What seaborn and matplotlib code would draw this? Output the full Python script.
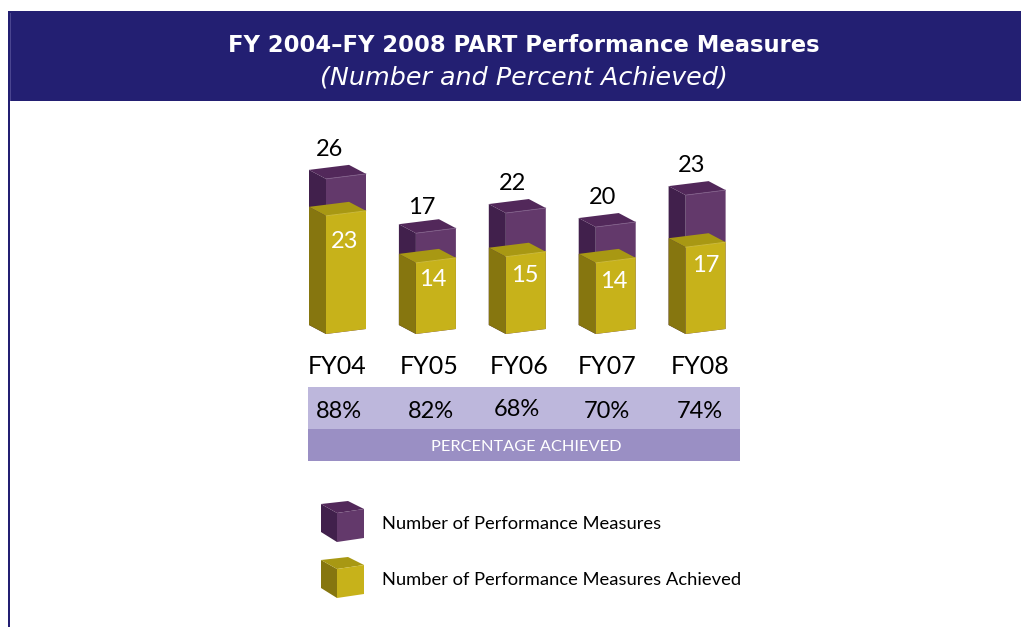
import matplotlib
matplotlib.use("Agg")
import matplotlib.pyplot as plt
from matplotlib.patches import Polygon, Rectangle
from matplotlib.transforms import Affine2D
import pandas as pd
import seaborn as sns

# Data
years = ["FY04", "FY05", "FY06", "FY07", "FY08"]
total_labels = [26, 17, 22, 20, 23]
achieved_labels = [23, 14, 15, 14, 17]
percent_labels = ["88%", "82%", "68%", "70%", "74%"]
# The source bars are not drawn in proportion to their printed numbers,
# so the drawn heights are measured separately from the labels
total_heights = [27.7, 18.0, 21.6, 19.1, 24.8]
achieved_heights = [21.1, 12.7, 13.8, 12.7, 15.5]

PURPLE = ("#63396b", "#52285a", "#41204c", "#7f5d88")  # front, top, side, highlight
YELLOW = ("#c7b21a", "#a89813", "#86760f", "#d2c23c")
NAVY = "#231f72"
BODY_FONT = "Lato"

# Axes scale: one bar step and one height unit, in pixels
W, H = 1021, 627
STEP, UNIT = 89.9, 5.6
X0, BASE = 346, 334


def px(x, y):
    """Convert figure pixels (origin top left) to data coordinates."""
    return (x - X0) / STEP, (BASE - y) / UNIT


def draw_cube_faces(ax, left, right, top, colors, z):
    """Side and top faces of a box, from the front face corners in data units."""
    dx, dy = 17 / STEP, 9 / UNIT
    bx, by = 23 / STEP, 14 / UNIT
    rise = 5 / UNIT
    bottom = 0
    side = [(left, bottom), (left - dx, bottom + dy), (left - dx, top + dy), (left, top)]
    lid = [(left, top), (left - dx, top + dy), (left + bx, top + by), (right, top + rise)]
    ax.add_patch(Polygon(side, closed=True, fc=colors[2], ec="none", zorder=z))
    ax.add_patch(Polygon(lid, closed=True, fc=colors[1], ec="none", zorder=z))
    # thin highlight along the front top edge
    ax.plot([left, right], [top, top + rise], color=colors[3], lw=0.6, zorder=z)


def draw_bars(ax, col, colors, z):
    sns.barplot(data=df, x="year", y=col, color=colors[0], width=40 / STEP,
                saturation=1, ax=ax, zorder=z, order=years)
    for bar in ax.containers[-1]:
        left = bar.get_x()
        right = left + bar.get_width()
        # lean the front face so that it rises towards the right
        slope = (5 / UNIT) / (right - left)
        shear = Affine2D.from_values(1, slope, 0, 1, 0, -slope * left)
        bar.set_transform(shear + ax.transData)
        bar.set_edgecolor("none")
        draw_cube_faces(ax, left, right, bar.get_height(), colors, z)


def draw_legend_cube(ax, x, y, colors):
    # x, y is the lower left corner of the front face, in pixels
    p = lambda a, b: px(x + a, y - b)
    ax.add_patch(Polygon([p(0, 0), p(-16, 10), p(-16, 38), p(0, 29)], fc=colors[2], ec="none"))
    ax.add_patch(Polygon([p(0, 29), p(-16, 38), p(11, 41), p(27, 33)], fc=colors[1], ec="none"))
    ax.add_patch(Polygon([p(0, 0), p(27, 4), p(27, 33), p(0, 29)], fc=colors[0], ec="none"))


df = pd.DataFrame({"year": years, "total": total_heights, "achieved": achieved_heights})

sns.set_theme(style="white")
fig = plt.figure(figsize=(W / 100, H / 100), dpi=100, facecolor="white")
ax = fig.add_axes([0, 0, 1, 1])

draw_bars(ax, "total", PURPLE, 3)
draw_bars(ax, "achieved", YELLOW, 4)

ax.set_xlim(px(0, 0)[0], px(W, 0)[0])
ax.set_ylim(px(0, H)[1], px(0, 0)[1])
ax.axis("off")


def band(x0, y0, x1, y1, color, z=1):
    a, b = px(x0, y1)
    c, d = px(x1, y0)
    ax.add_patch(Rectangle((a, b), c - a, d - b, fc=color, ec="none", zorder=z))


def label(x, y, s, size=17, color="black", family=BODY_FONT, **kw):
    # matplotlib centres on the full line box, so nudge down to the glyph centre
    a, b = px(x, y + 2)
    ax.text(a, b, s, ha=kw.pop("ha", "center"), va="center", fontsize=size,
            color=color, family=family, zorder=6, **kw)


# Header band and left rule
band(8, 11, W, 101, NAVY)
band(8, 101, 10.5, H, NAVY)
band(10, 13, 11, 101, "#4a4590", z=2)
label(524, 43, "FY 2004\u2013FY 2008 PART Performance Measures", size=16.3, color="white",
      family="DejaVu Sans", fontweight="bold")
label(524, 75, "(Number and Percent Achieved)", size=18.3, color="white",
      family="DejaVu Sans", fontstyle="italic")

# Percentage table
band(308, 387, 740, 429, "#bdb7dc")
band(308, 429, 740, 461, "#9a8fc4")
label(526, 445, "PERCENTAGE ACHIEVED", size=11.8, color="white")

total_pos = [(330, 148), (422, 205), (512, 181), (603, 195), (692, 163)]
achieved_pos = [(345, 239), (433, 278), (525, 273), (614, 279), (706, 264)]
year_x = [337, 429, 519, 607, 700]
percent_pos = [(339, 409), (431, 410), (517, 408), (607, 409), (700, 410)]

for i, year in enumerate(years):
    label(*total_pos[i], str(total_labels[i]))
    label(*achieved_pos[i], str(achieved_labels[i]), color="white")
    label(year_x[i], 365, year, size=18)
    label(*percent_pos[i], percent_labels[i])

# Legend
draw_legend_cube(ax, 337, 542, PURPLE)
draw_legend_cube(ax, 337, 598, YELLOW)
label(382, 522, "Number of Performance Measures", size=13.2, ha="left")
label(382, 578, "Number of Performance Measures Achieved", size=13.2, ha="left")

fig.savefig("out.png", dpi=100)
